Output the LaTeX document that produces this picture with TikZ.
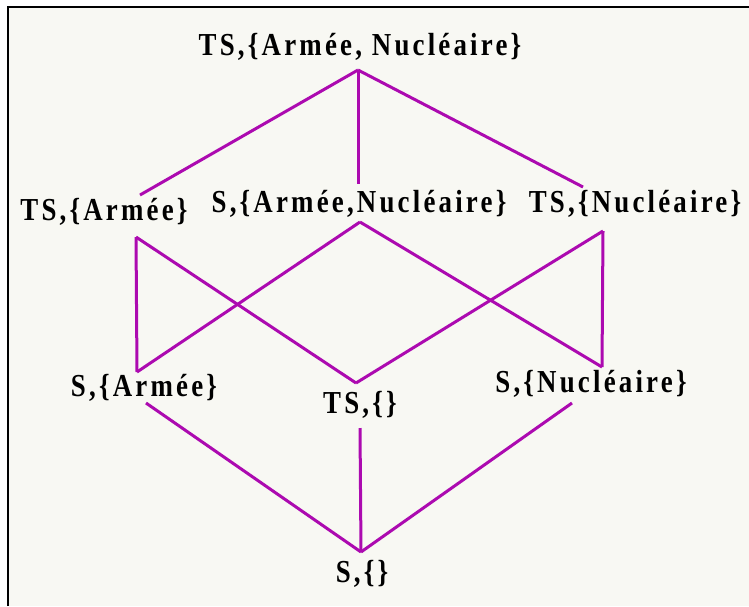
\documentclass[tikz,border=0pt]{standalone}
\usepackage{fontspec}
\newfontfamily\lblfont[FakeStretch=0.84, LetterSpace=10]{Liberation Serif Bold}
\usetikzlibrary{positioning}
\definecolor{latticepurple}{RGB}{172,10,176}
\definecolor{paper}{RGB}{248,248,243}
\tikzset{
    lattice/.style={draw=latticepurple, line width=3pt},
    lbl/.style={anchor=base, inner sep=0pt, font=\lblfont\fontsize{32}{32}\selectfont}
}
\begin{document}
\begin{tikzpicture}[x=1pt, y=-1pt]
    \useasboundingbox (0,0) rectangle (749,606);
    % Frame
    \fill[paper] (8,7) rectangle (749,606);
    \draw[line width=2pt] (8,606) -- (8,7) -- (749,7);

    % Define the attachment points of the lattice
    \coordinate (TSAN-b) at (358,70);
    \coordinate (TSA-t) at (140,195);
    \coordinate (TSA-b) at (136,237);
    \coordinate (SAN-t) at (358,184);
    \coordinate (SAN-b) at (360,222);
    \coordinate (TSN-t) at (583,187);
    \coordinate (TSN-b) at (603,231);
    \coordinate (SA-t) at (137,372);
    \coordinate (SA-b) at (146,403);
    \coordinate (TS0-t) at (356,383);
    \coordinate (TS0-b) at (360,428);
    \coordinate (SN-t) at (602,367);
    \coordinate (SN-b) at (572,403);
    \coordinate (S0-t) at (361,552);

    % Draw the edges of the lattice
    \draw[lattice] (TSAN-b) -- (TSA-t);
    \draw[lattice] (TSAN-b) -- (SAN-t);
    \draw[lattice] (TSAN-b) -- (TSN-t);

    \draw[lattice] (TSA-b) -- (SA-t);
    \draw[lattice] (TSA-b) -- (TS0-t);
    \draw[lattice] (SAN-b) -- (SA-t);
    \draw[lattice] (SAN-b) -- (SN-t);
    \draw[lattice] (TSN-b) -- (TS0-t);
    \draw[lattice] (TSN-b) -- (SN-t);

    \draw[lattice] (SA-b) -- (S0-t);
    \draw[lattice] (TS0-b) -- (S0-t);
    \draw[lattice] (SN-b) -- (S0-t);

    % Place the labels
    \node[lbl] (TSAN) at (360,55) {TS,\{Armée, Nucléaire\}};
    \node[lbl] (TSA) at (104,220) {TS,\{Armée\}};
    \node[lbl] (SAN) at (359,212) {S,\{Armée,Nucléaire\}};
    \node[lbl] (TSN) at (635,212) {TS,\{Nucléaire\}};
    \node[lbl] (SA) at (144,396) {S,\{Armée\}};
    \node[lbl] (TS0) at (360,413) {TS,\{\}};
    \node[lbl] (SN) at (591,392) {S,\{Nucléaire\}};
    \node[lbl] (S0) at (362,582) {S,\{\}};
\end{tikzpicture}
\end{document}
